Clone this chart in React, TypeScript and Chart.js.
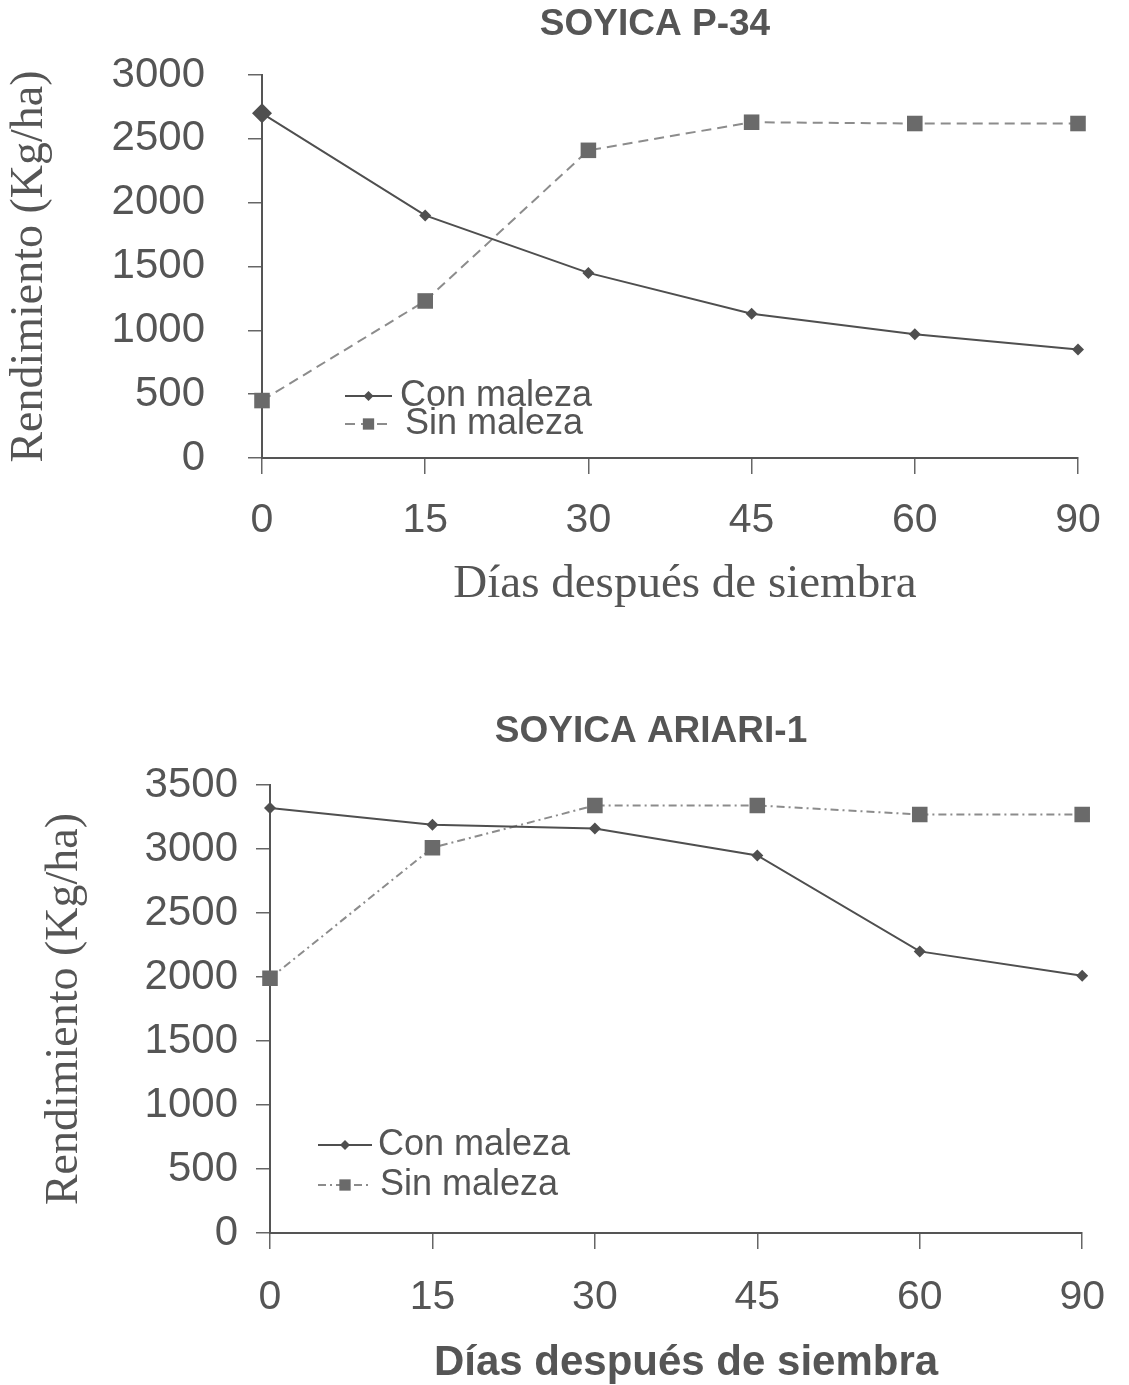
import { useEffect, useRef } from 'react';
import { Chart, registerables } from 'chart.js';

Chart.register(...registerables);

// ---------- data ----------
const days = ['0', '15', '30', '45', '60', '90'];
const seriesNames = ['Con maleza', 'Sin maleza'];

const p34Title = 'SOYICA P-34';
const p34ConMaleza = [2700, 1900, 1450, 1130, 970, 850];
const p34SinMaleza = [450, 1230, 2410, 2630, 2620, 2620];
const p34YTicks = [0, 500, 1000, 1500, 2000, 2500, 3000];

const ariariTitle = 'SOYICA ARIARI-1';
const ariariConMaleza = [3320, 3190, 3160, 2950, 2200, 2010];
const ariariSinMaleza = [1990, 3010, 3340, 3340, 3270, 3270];
const ariariYTicks = [0, 500, 1000, 1500, 2000, 2500, 3000, 3500];

const yAxisTitle = 'Rendimiento (Kg/ha)';
const xAxisTitle = 'Días después de siembra';

// ---------- styles ----------
const TEXT = '#555555';
const CON_COLOR = '#4f4f4f';
const SIN_COLOR = '#8c8c8c';
const SIN_POINT = '#6a6a6a';
const SANS = "'Liberation Sans', Arial, sans-serif";
const SERIF = "'Liberation Serif', 'Times New Roman', serif";

type Cfg = {
  height: number;
  title: string;
  titleX: number;
  titleY: number;
  con: number[];
  sin: number[];
  yTicks: number[];
  areaTop: number;
  areaBottom: number;
  areaLeft: number;
  areaRight: number;
  yTitleCenter: number;
  yTickPad: number;
  xTickPad: number;
  xTitleFont: string;
  xTitleX: number;
  xTitleY: number;
  conRadius: number[];
  sinDash: number[];
  legend: { x1: number; x2: number; tx: number; y: number }[];
};

function drawMarker(ctx: CanvasRenderingContext2D, style: string, x: number, y: number, r: number, fill: string) {
  ctx.beginPath();
  if (style === 'rectRot') {
    ctx.moveTo(x, y - r);
    ctx.lineTo(x + r, y);
    ctx.lineTo(x, y + r);
    ctx.lineTo(x - r, y);
    ctx.closePath();
  } else {
    const s = r * Math.SQRT1_2;
    ctx.rect(x - s, y - s, 2 * s, 2 * s);
  }
  ctx.fillStyle = fill;
  ctx.fill();
}

function makeOverlay(cfg: Cfg) {
  return {
    id: 'overlay',
    afterDraw(chart: any) {
      const ctx: CanvasRenderingContext2D = chart.ctx;
      ctx.save();
      ctx.fillStyle = TEXT;
      ctx.font = `bold 37px ${SANS}`;
      ctx.textAlign = 'center';
      ctx.textBaseline = 'middle';
      ctx.fillText(cfg.title, cfg.titleX, cfg.titleY);

      ctx.font = cfg.xTitleFont;
      ctx.fillText(xAxisTitle, cfg.xTitleX, cfg.xTitleY);

      const styles = [
        { color: CON_COLOR, dash: [] as number[], point: 'rectRot', r: 5, fill: CON_COLOR },
        { color: SIN_COLOR, dash: cfg.sinDash, point: 'rect', r: 8, fill: SIN_POINT },
      ];
      cfg.legend.forEach((it, i) => {
        const s = styles[i];
        ctx.strokeStyle = s.color;
        ctx.lineWidth = 2;
        ctx.setLineDash(s.dash);
        ctx.beginPath();
        ctx.moveTo(it.x1, it.y);
        ctx.lineTo(it.x2, it.y);
        ctx.stroke();
        ctx.setLineDash([]);
        drawMarker(ctx, s.point, (it.x1 + it.x2) / 2, it.y, s.r, s.fill);
        ctx.fillStyle = TEXT;
        ctx.font = `36px ${SANS}`;
        ctx.textAlign = 'left';
        ctx.textBaseline = 'middle';
        ctx.fillText(seriesNames[i], it.tx, it.y);
      });
      ctx.restore();
    },
  };
}

function LineChart({ cfg }: { cfg: Cfg }) {
  const ref = useRef<HTMLCanvasElement>(null);
  useEffect(() => {
    const canvas = ref.current!;
    const yMax = cfg.yTicks[cfg.yTicks.length - 1];
    const chart = new Chart(canvas, {
      type: 'line',
      data: {
        labels: days,
        datasets: [
          {
            label: seriesNames[0],
            data: cfg.con,
            borderColor: CON_COLOR,
            backgroundColor: CON_COLOR,
            borderWidth: 2,
            pointStyle: 'rectRot',
            pointRadius: cfg.conRadius,
            pointBorderWidth: 0,
            tension: 0,
          },
          {
            label: seriesNames[1],
            data: cfg.sin,
            borderColor: SIN_COLOR,
            backgroundColor: SIN_POINT,
            borderWidth: 2,
            borderDash: cfg.sinDash,
            pointStyle: 'rect',
            pointRadius: 11,
            pointBorderWidth: 0,
            tension: 0,
          },
        ],
      },
      options: {
        responsive: false,
        animation: false,
        devicePixelRatio: 1,
        layout: {
          padding: { top: cfg.areaTop, right: 1129 - cfg.areaRight, left: 0, bottom: 0 },
        },
        plugins: {
          legend: { display: false },
          title: { display: false },
          tooltip: { enabled: false },
        },
        scales: {
          x: {
            type: 'category',
            offset: false,
            afterFit: (scale: any) => {
              scale.height = cfg.height - cfg.areaBottom;
            },
            grid: {
              drawOnChartArea: false,
              drawTicks: true,
              tickLength: 16,
              color: '#666666',
              lineWidth: 1.5,
            },
            border: { display: true, color: '#555555', width: 2 },
            ticks: {
              color: TEXT,
              font: { family: SANS, size: 41 },
              padding: cfg.xTickPad,
              maxRotation: 0,
              autoSkip: false,
            },
            title: { display: false },
          },
          y: {
            type: 'linear',
            min: 0,
            max: yMax,
            afterFit: (scale: any) => {
              scale.width = cfg.areaLeft;
            },
            afterBuildTicks: (scale: any) => {
              scale.ticks = cfg.yTicks.map((v) => ({ value: v }));
            },
            grid: {
              drawOnChartArea: false,
              drawTicks: true,
              tickLength: 14,
              color: '#666666',
              lineWidth: 1.5,
            },
            border: { display: true, color: '#555555', width: 2 },
            ticks: {
              color: TEXT,
              font: { family: SANS, size: 42 },
              padding: cfg.yTickPad,
              callback: (v: any) => String(v),
            },
            title: {
              display: true,
              text: yAxisTitle,
              color: TEXT,
              font: { family: SERIF, size: 46 },
              padding: { top: cfg.yTitleCenter - 27.6, bottom: 0 },
            },
          },
        },
      },
      plugins: [makeOverlay(cfg)],
    });
    return () => chart.destroy();
  }, [cfg]);
  return <canvas ref={ref} width={1129} height={cfg.height} style={{ display: 'block' }} />;
}

const cfgP34: Cfg = {
  height: 640,
  title: p34Title,
  titleX: 655,
  titleY: 25,
  con: p34ConMaleza,
  sin: p34SinMaleza,
  yTicks: p34YTicks,
  areaTop: 75,
  areaBottom: 458,
  areaLeft: 262,
  areaRight: 1078,
  yTitleCenter: 30,
  yTickPad: 43,
  xTickPad: 22,
  xTitleFont: `47px ${SERIF}`,
  xTitleX: 685,
  xTitleY: 585,
  conRadius: [10, 6, 6, 6, 6, 6],
  sinDash: [10, 6],
  legend: [
    { x1: 345, x2: 392, tx: 400, y: 396 },
    { x1: 345, x2: 392, tx: 405, y: 424 },
  ],
};

const cfgAriari: Cfg = {
  height: 700,
  title: ariariTitle,
  titleX: 651,
  titleY: 47,
  con: ariariConMaleza,
  sin: ariariSinMaleza,
  yTicks: ariariYTicks,
  areaTop: 100,
  areaBottom: 548,
  areaLeft: 270,
  areaRight: 1101,
  yTitleCenter: 65,
  yTickPad: 18,
  xTickPad: 24,
  xTitleFont: `bold 42px ${SANS}`,
  xTitleX: 686,
  xTitleY: 678,
  conRadius: [6, 6, 6, 6, 6, 6],
  sinDash: [8, 4, 2, 4],
  legend: [
    { x1: 318, x2: 372, tx: 378, y: 460 },
    { x1: 318, x2: 372, tx: 380, y: 500 },
  ],
};

export default function App() {
  return (
    <div style={{ position: 'absolute', left: 0, top: 0, width: 1129, height: 1385, background: '#ffffff' }}>
      <div style={{ position: 'absolute', left: 0, top: 0 }}>
        <LineChart cfg={cfgP34} />
      </div>
      <div style={{ position: 'absolute', left: 0, top: 685 }}>
        <LineChart cfg={cfgAriari} />
      </div>
    </div>
  );
}
